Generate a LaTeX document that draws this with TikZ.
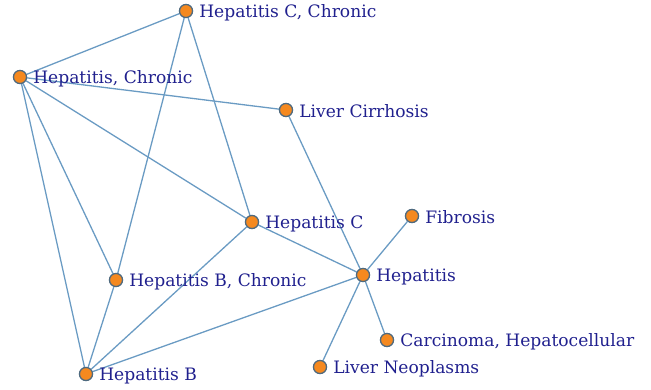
\documentclass[tikz,border=0pt]{standalone}
\usepackage{fontspec}
\setmainfont{DejaVu Serif}
\definecolor{edgec}{HTML}{6A9BC3}
\definecolor{nodef}{HTML}{F5891F}
\definecolor{noded}{HTML}{4E6A80}
\definecolor{labc}{HTML}{20208E}
\begin{document}
\begin{tikzpicture}[x=1pt,y=-1pt,
  vert/.style={circle,fill=nodef,draw=noded,line width=1.2pt,minimum size=13pt,inner sep=0pt},
  lab/.style={text=labc,font=\fontsize{17.1}{19}\selectfont,anchor=west,inner sep=0pt,xshift=6pt,yshift=-1.5pt},
  edge/.style={draw=edgec,line width=1.3pt}]
\useasboundingbox (0,0) rectangle (651,389);
\node[vert] (hcc) at (186,11) {};
\node[vert] (hc) at (20,77) {};
\node[vert] (lc) at (286,110) {};
\node[vert] (hepc) at (252,222) {};
\node[vert] (fib) at (412,216) {};
\node[vert] (hep) at (363,275) {};
\node[vert] (hbc) at (116,280) {};
\node[vert] (carc) at (387,340) {};
\node[vert] (ln) at (320,367) {};
\node[vert] (hb) at (86,374) {};
\path[edge] (hcc) -- (hc);
\path[edge] (hcc) -- (hepc);
\path[edge] (hcc) -- (hbc);
\path[edge] (hc) -- (lc);
\path[edge] (hc) -- (hepc);
\path[edge] (hc) -- (hbc);
\path[edge] (hc) -- (hb);
\path[edge] (lc) -- (hep);
\path[edge] (hepc) -- (hep);
\path[edge] (hepc) -- (hb);
\path[edge] (hep) -- (fib);
\path[edge] (hep) -- (carc);
\path[edge] (hep) -- (ln);
\path[edge] (hep) -- (hb);
\path[edge] (hbc) -- (hb);
\foreach \n in {hcc,hc,lc,hepc,fib,hep,hbc,carc,ln,hb}{\node[vert] at (\n) {};}
\node[lab] (thcc) at (hcc.east) {Hepatitis C, Chronic};
\node[lab] (thc) at (hc.east) {Hepatitis, Chronic};
\node[lab] (tlc) at (lc.east) {Liver Cirrhosis};
\node[lab] (thepc) at (hepc.east) {Hepatitis C};
\node[lab] (tfib) at (fib.east) {Fibrosis};
\node[lab] (thep) at (hep.east) {Hepatitis};
\node[lab] (thbc) at (hbc.east) {Hepatitis B, Chronic};
\node[lab] (tcarc) at (carc.east) {Carcinoma, Hepatocellular};
\node[lab] (tln) at (ln.east) {Liver Neoplasms};
\node[lab] (thb) at (hb.east) {Hepatitis B};
\end{tikzpicture}
\end{document}
